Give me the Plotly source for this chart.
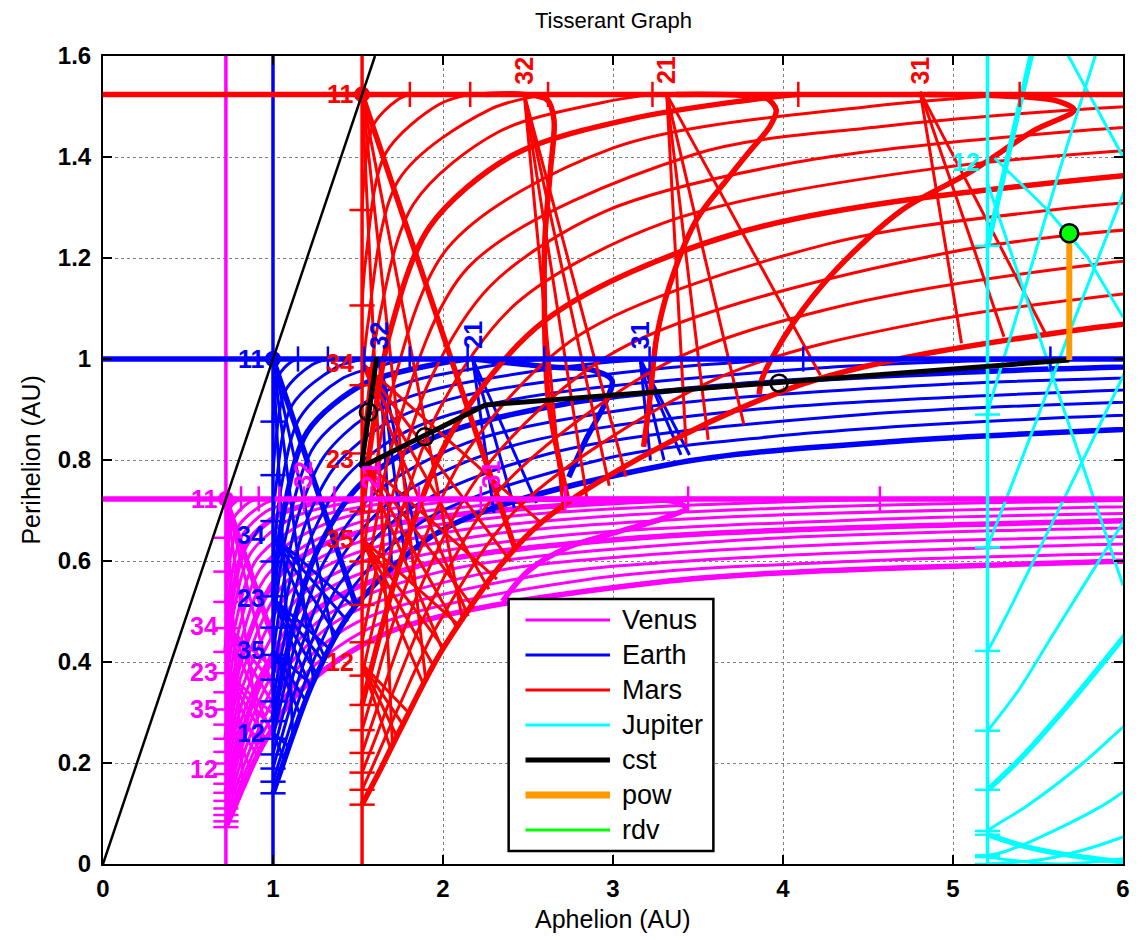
import plotly.graph_objects as go

# ---------------- planets ----------------
PLANET_NAMES = ["Venus", "Earth", "Mars", "Jupiter"]
PLANET_R_AU = [0.723, 1.0, 1.524, 5.203]
PLANET_COLORS = ["#FF00FF", "#0000FF", "#FF0000", "#00FFFF"]

# ---------------- v-infinity contours (aphelion / perihelion, AU) ----------------
VENUS_VINF_KMS = [1, 2, 3, 4, 5, 6, 7, 8, 9, 10, 11, 12, 13, 14, 15, 16, 17, 18, 19, 20]
VENUS_RA = [
    [0.812, 0.789, 0.744, 0.727, 0.723],
    [0.916, 0.862, 0.767, 0.730, 0.723],
    [1.038, 0.947, 0.791, 0.734, 0.723],
    [1.183, 1.115, 0.959, 0.816, 0.752, 0.729, 0.723],
    [1.361, 1.259, 1.035, 0.843, 0.760, 0.731, 0.723],
    [1.579, 1.430, 1.122, 0.872, 0.768, 0.733, 0.723],
    [1.858, 1.642, 1.221, 0.904, 0.776, 0.734, 0.723],
    [2.222, 1.905, 1.333, 0.937, 0.785, 0.736, 0.723],
    [2.720, 2.247, 1.464, 0.973, 0.795, 0.738, 0.723],
    [3.442, 2.702, 2.117, 1.619, 1.251, 1.012, 0.804, 0.740, 0.723],
    [4.570, 3.338, 2.472, 1.801, 1.340, 1.054, 0.815, 0.742, 0.723],
    [6.610, 4.298, 2.945, 2.022, 1.441, 1.100, 0.825, 0.744, 0.723],
    [9.230, 5.889, 3.603, 2.290, 1.556, 1.150, 0.836, 0.746, 0.723],
    [9.070, 6.330, 4.579, 2.636, 1.688, 1.205, 0.848, 0.749, 0.723],
    [9.870, 6.180, 3.081, 1.842, 1.265, 0.991, 0.860, 0.751, 0.723],
    [9.290, 5.497, 3.686, 2.025, 1.331, 1.019, 0.873, 0.7535, 0.723],
    [7.700, 4.553, 3.073, 2.243, 1.405, 1.0485, 0.886, 0.756, 0.723],
    [7.570, 5.885, 3.619, 2.508, 1.488, 1.080, 0.901, 0.759, 0.723],
    [8.250, 4.383, 2.841, 1.581, 1.115, 0.916, 0.761, 0.723],
    [6.954, 5.517, 3.264, 1.686, 1.151, 0.931, 0.824, 0.765, 0.723],
]
VENUS_RP = [
    [0.723, 0.7195, 0.703, 0.664, 0.646],
    [0.723, 0.717, 0.684, 0.612, 0.579],
    [0.723, 0.713, 0.666, 0.564, 0.519],
    [0.723, 0.717, 0.698, 0.649, 0.561, 0.491, 0.467],
    [0.723, 0.716, 0.692, 0.633, 0.529, 0.448, 0.420],
    [0.723, 0.715, 0.687, 0.617, 0.499, 0.408, 0.378],
    [0.723, 0.714, 0.682, 0.603, 0.470, 0.373, 0.340],
    [0.723, 0.713, 0.677, 0.589, 0.444, 0.340, 0.306],
    [0.723, 0.711, 0.672, 0.575, 0.4195, 0.310, 0.276],
    [0.723, 0.710, 0.693, 0.6665, 0.625, 0.562, 0.397, 0.283, 0.248],
    [0.723, 0.709, 0.691, 0.662, 0.617, 0.550, 0.375, 0.258, 0.222],
    [0.723, 0.708, 0.688, 0.657, 0.610, 0.5385, 0.355, 0.235, 0.199],
    [0.719, 0.707, 0.686, 0.653, 0.6025, 0.527, 0.336, 0.214, 0.178],
    [0.706, 0.696, 0.683, 0.6485, 0.5956, 0.5165, 0.318, 0.195, 0.159],
    [0.695, 0.681, 0.644, 0.589, 0.506, 0.402, 0.302, 0.177, 0.141],
    [0.679, 0.662, 0.640, 0.582, 0.496, 0.388, 0.286, 0.160, 0.125],
    [0.659, 0.636, 0.609, 0.576, 0.487, 0.375, 0.271, 0.145, 0.110],
    [0.642, 0.6325, 0.604, 0.569, 0.4775, 0.363, 0.256, 0.130, 0.097],
    [0.629, 0.599, 0.563, 0.469, 0.351, 0.243, 0.117, 0.0845],
    [0.6055, 0.595, 0.558, 0.460, 0.340, 0.230, 0.152, 0.105, 0.073],
]

EARTH_VINF_KMS = [1, 2, 3, 4, 5, 6, 7, 8, 9, 10, 11, 12, 13, 14, 15]
EARTH_RA = [
    [1.147, 1.108, 1.035, 1.006, 1.000],
    [1.323, 1.232, 1.072, 1.012, 1.000],
    [1.537, 1.376, 1.112, 1.018, 1.000],
    [1.804, 1.678, 1.400, 1.155, 1.047, 1.010, 1.000],
    [2.145, 1.947, 1.537, 1.202, 1.061, 1.013, 1.000],
    [2.595, 2.290, 1.697, 1.252, 1.075, 1.016, 1.000],
    [3.215, 2.736, 1.885, 1.545, 1.307, 1.166, 1.089, 1.019, 1.000],
    [4.119, 3.339, 2.108, 1.664, 1.367, 1.196, 1.104, 1.022, 1.000],
    [5.573, 4.209, 2.380, 1.800, 1.433, 1.228, 1.121, 1.025, 1.000],
    [8.276, 5.565, 3.897, 2.717, 1.957, 1.506, 1.263, 1.138, 1.029, 1.000],
    [7.958, 4.912, 3.144, 2.140, 1.586, 1.299, 1.156, 1.032, 1.000],
    [6.529, 3.705, 2.357, 1.675, 1.339, 1.175, 1.036, 1.000],
    [9.478, 4.473, 2.616, 1.775, 1.382, 1.195, 1.040, 1.000],
    [8.767, 5.594, 3.925, 2.934, 1.887, 1.428, 1.216, 1.044, 1.000],
    [7.371, 4.708, 3.329, 2.015, 1.478, 1.239, 1.117, 1.048, 1.000],
]
EARTH_RP = [
    [1.000, 0.9945, 0.9675, 0.9051, 0.876],
    [1.000, 0.989, 0.937, 0.822, 0.770],
    [1.000, 0.984, 0.9085, 0.749, 0.679],
    [1.000, 0.991, 0.960, 0.882, 0.744, 0.637, 0.599],
    [1.000, 0.989, 0.951, 0.856, 0.694, 0.571, 0.530],
    [1.000, 0.987, 0.942, 0.832, 0.648, 0.513, 0.468],
    [1.000, 0.985, 0.934, 0.885, 0.810, 0.709, 0.606, 0.461, 0.414],
    [1.000, 0.983, 0.926, 0.872, 0.788, 0.678, 0.567, 0.414, 0.365],
    [1.000, 0.982, 0.918, 0.859, 0.768, 0.650, 0.531, 0.371, 0.322],
    [1.000, 0.980, 0.953, 0.911, 0.846, 0.749, 0.622, 0.498, 0.333, 0.283],
    [0.978, 0.949, 0.903, 0.834, 0.730, 0.597, 0.466, 0.298, 0.248],
    [0.945, 0.896, 0.823, 0.713, 0.573, 0.438, 0.266, 0.217],
    [0.941, 0.890, 0.812, 0.696, 0.550, 0.411, 0.238, 0.189],
    [0.913, 0.883, 0.846, 0.801, 0.680, 0.529, 0.385, 0.211, 0.163],
    [0.878, 0.838, 0.791, 0.665, 0.508, 0.362, 0.255, 0.187, 0.140],
]

MARS_VINF_KMS = [1, 2, 3, 4, 5, 6, 7, 8, 9, 10, 11, 12, 13, 14, 15]
MARS_RA = [
    [1.805, 1.731, 1.590, 1.534, 1.524],
    [2.160, 1.976, 1.662, 1.546, 1.524],
    [2.618, 2.274, 1.740, 1.558, 1.524],
    [3.232, 2.940, 2.328, 1.827, 1.615, 1.544, 1.524],
    [4.090, 3.800, 3.114, 2.413, 1.922, 1.684, 1.584, 1.538, 1.524],
    [5.392, 4.508, 3.002, 2.028, 1.669, 1.597, 1.555, 1.524],
    [7.559, 5.875, 4.567, 3.468, 2.147, 1.699, 1.612, 1.561, 1.524],
    [8.155, 5.781, 4.068, 2.950, 2.280, 1.917, 1.730, 1.627, 1.567, 1.524],
    [12.70, 7.695, 4.869, 3.295, 2.431, 1.987, 1.764, 1.644, 1.574, 1.524],
    [11.14, 6.001, 3.717, 2.603, 2.062, 1.800, 1.661, 1.581, 1.524],
    [7.720, 5.582, 4.253, 2.801, 2.145, 1.839, 1.679, 1.588, 1.524],
    [10.60, 6.911, 4.947, 3.032, 2.237, 1.881, 1.699, 1.596, 1.524],
    [8.990, 5.885, 4.257, 3.304, 2.340, 1.927, 1.720, 1.605, 1.524],
    [7.227, 4.875, 3.630, 2.453, 1.975, 1.741, 1.613, 1.524],
    [9.290, 5.697, 4.027, 2.581, 2.027, 1.765, 1.623, 1.524],
]
MARS_RP = [
    [1.524, 1.513, 1.463, 1.350, 1.295],
    [1.524, 1.504, 1.407, 1.199, 1.106],
    [1.524, 1.494, 1.355, 1.069, 0.948],
    [1.524, 1.508, 1.450, 1.307, 1.063, 0.876, 0.813],
    [1.524, 1.513, 1.476, 1.404, 1.262, 1.048, 0.855, 0.737, 0.698],
    [1.524, 1.500, 1.418, 1.220, 0.899, 0.766, 0.672, 0.599],
    [1.524, 1.497, 1.460, 1.404, 1.181, 0.829, 0.687, 0.588, 0.513],
    [1.494, 1.453, 1.389, 1.292, 1.145, 0.954, 0.765, 0.616, 0.514, 0.439],
    [1.490, 1.445, 1.376, 1.269, 1.110, 0.906, 0.706, 0.552, 0.449, 0.373],
    [1.438, 1.363, 1.248, 1.077, 0.861, 0.652, 0.494, 0.391, 0.315],
    [1.350, 1.295, 1.227, 1.047, 0.819, 0.600, 0.449, 0.339, 0.265],
    [1.338, 1.279, 1.209, 1.018, 0.780, 0.558, 0.395, 0.292, 0.220],
    [1.264, 1.189, 1.098, 0.990, 0.744, 0.516, 0.352, 0.251, 0.181],
    [1.172, 1.076, 0.964, 0.709, 0.477, 0.312, 0.214, 0.147],
    [1.155, 1.056, 0.940, 0.677, 0.441, 0.277, 0.181, 0.1175],
]

JUPITER_VINF_KMS = [5, 6, 7, 8, 9, 10, 11, 12, 13, 14, 15]
JUPITER_RA = [
    [5.203, 5.222, 5.279, 5.379, 5.446, 5.529],
    [5.203, 5.223, 5.296, 5.425, 5.611, 5.888],
    [5.203, 5.231, 5.320, 5.476, 5.709, 6.052],
    [5.203, 5.240, 5.346, 5.532, 5.819, 6.007],
    [5.203, 5.249, 5.385, 5.595, 5.938, 6.026],
    [5.203, 5.253, 5.408, 5.668, 5.851, 6.077],
    [5.203, 5.252, 5.437, 5.755, 5.967, 6.070],
    [5.203, 5.297, 5.485, 5.854, 5.991, 6.096],
    [5.203, 5.560, 5.971, 6.240],
    [5.203, 5.620, 6.070],
    [5.203, 5.463, 5.880, 6.190],
]
JUPITER_RP = [
    [1.224, 1.251, 1.336, 1.483, 1.581, 1.698],
    [0.890, 0.917, 0.998, 1.142, 1.356, 1.655],
    [0.627, 0.6525, 0.7285, 0.865, 1.074, 1.371],
    [0.422, 0.444, 0.513, 0.640, 0.838, 0.971],
    [0.264, 0.283, 0.344, 0.458, 0.643, 0.690],
    [0.147, 0.162, 0.2127, 0.3115, 0.3855, 0.480],
    [0.0655, 0.0767, 0.1155, 0.197, 0.261, 0.292],
    [0.0172, 0.0237, 0.049, 0.1106, 0.140, 0.163],
    [0.000, 0.0109, 0.050, 0.090],
    [0.0136, 0.000, 0.0134],
    [0.058, 0.0313, 0.0085, 0.000],
]

# ---------------- resonance curves ----------------
RES_THICK = [
    (0, [0.723, 1.119], [0.723, 0.327]),
    (0, [2.280, 2.900, 3.350, 3.430, 3.300, 3.000, 2.720, 2.500, 2.350],
        [0.723, 0.722, 0.718, 0.705, 0.685, 0.655, 0.625, 0.580, 0.520]),
    (1, [1.000, 1.4875], [1.000, 0.5125]),
    (1, [2.175, 2.640, 2.880, 2.994, 2.950, 2.840, 2.740], [1.000, 0.984, 0.978, 0.958, 0.910, 0.840, 0.766]),
    (2, [1.524, 2.425], [1.524, 0.623]),
    (2, [2.250, 2.478, 2.614, 2.653, 2.632, 2.600, 2.596, 2.620, 2.730],
        [1.524, 1.524, 1.513, 1.473, 1.374, 1.242, 1.111, 0.920, 0.727]),
    (2, [3.370, 3.725, 3.900, 3.960, 3.920, 3.800, 3.667, 3.490, 3.330, 3.257, 3.216, 3.180],
        [1.524, 1.523, 1.517, 1.493, 1.459, 1.410, 1.354, 1.275, 1.143, 1.044, 0.919, 0.826]),
    (2, [4.850, 5.300, 5.600, 5.713, 5.480, 5.090, 4.700, 4.310, 4.060, 3.880, 3.860],
        [1.524, 1.521, 1.512, 1.493, 1.453, 1.368, 1.295, 1.176, 1.071, 0.964, 0.930]),
]
# thin fans: (planet index, origin ra, origin rp, end ra list, end rp list)
RES_FANS = [
    (0, 0.723, 0.723, [0.824, 0.931, 1.040], [0.152, 0.230, 0.285]),
    (0, 0.723, 0.471, [0.990, 1.050, 1.100, 1.157], [0.260, 0.290, 0.315, 0.341]),
    (0, 0.723, 0.380, [0.920, 0.960, 1.000, 1.040], [0.222, 0.245, 0.265, 0.285]),
    (0, 0.723, 0.306, [0.870, 0.910, 0.948], [0.187, 0.215, 0.239]),
    (0, 0.723, 0.188, [0.796, 0.829], [0.130, 0.156]),
    (1, 1.000, 1.000, [1.117, 1.239, 1.360], [0.255, 0.362, 0.440]),
    (1, 1.000, 0.651, [1.308, 1.380, 1.440, 1.478], [0.405, 0.450, 0.480, 0.508]),
    (1, 1.000, 0.526, [1.223, 1.260, 1.300, 1.340], [0.348, 0.375, 0.400, 0.424]),
    (1, 1.000, 0.423, [1.162, 1.195, 1.230], [0.294, 0.322, 0.354]),
    (1, 1.000, 0.260, [1.067, 1.094], [0.206, 0.232]),
    (1, 1.626, 1.000, [1.700, 1.780, 1.860], [0.580, 0.600, 0.620]),
    (1, 2.175, 1.000, [2.300, 2.420, 2.550], [0.695, 0.705, 0.715]),
    (1, 3.160, 1.000, [3.220, 3.300, 3.400, 3.450], [0.800, 0.800, 0.810, 0.810]),
    (2, 1.524, 1.524, [1.703, 1.899, 2.117], [0.235, 0.361, 0.480]),
    (2, 1.524, 0.992, [2.148, 2.270, 2.398, 2.579], [0.491, 0.544, 0.599, 0.675]),
    (2, 1.524, 0.802, [1.998, 2.085, 2.182, 2.317], [0.423, 0.466, 0.506, 0.564]),
    (2, 1.524, 0.644, [1.887, 1.946, 2.006, 2.099], [0.354, 0.391, 0.427, 0.471]),
    (2, 1.524, 0.396, [1.692, 1.729, 1.764, 1.800], [0.228, 0.252, 0.276, 0.299]),
    (2, 2.478, 1.524, [2.707, 2.846, 2.978, 3.076], [0.700, 0.725, 0.749, 0.767]),
    (2, 3.316, 1.524, [3.430, 3.560, 3.770, 4.220], [0.830, 0.840, 0.870, 0.968]),
    (2, 4.807, 1.529, [5.050, 5.300, 5.540], [1.031, 1.044, 1.053]),
]
JUPITER_EXTRA = [
    ([5.203, 6.000], [1.349, 0.552]),
    ([5.245, 5.556, 5.790, 6.000], [1.398, 1.295, 1.202, 1.083]),
    ([5.670, 6.000], [1.606, 1.400]),
]

LEFT_LABELS = [
    (0, ["11", "34", "23", "35", "12"], [0.723, 0.471, 0.380, 0.306, 0.188]),
    (1, ["11", "34", "23", "35", "12"], [1.000, 0.651, 0.526, 0.423, 0.260]),
    (2, ["11", "34", "23", "35", "12"], [1.524, 0.992, 0.802, 0.644, 0.400]),
    (3, ["12"], [1.390]),
]
TOP_LABELS = [
    (0, ["32", "21", "31"], [1.176, 1.573, 2.280]),
    (1, ["32", "21", "31"], [1.626, 2.175, 3.160]),
    (2, ["32", "21", "31"], [2.478, 3.316, 4.807]),
]

# ---------------- trajectory ----------------
CST_RA = [1.610, 1.520, 2.250, 5.684]
CST_RP = [1.004, 0.786, 0.909, 0.998]
FLYBY_RA = [1.561, 1.893, 3.977]
FLYBY_RP = [0.895, 0.846, 0.952]
POW_RA = [5.684, 5.684]
POW_RP = [0.998, 1.245]
RDV_RA = [5.684]
RDV_RP = [1.249]

LEGEND_NAMES = ["Venus", "Earth", "Mars", "Jupiter", "cst", "pow", "rdv"]
LEGEND_COLORS = ["#FF00FF", "#0000FF", "#FF0000", "#00FFFF", "#000000", "#FF9900", "#00FF00"]
LEGEND_WIDTHS = [3, 3, 3, 3, 5, 7, 3]

X_RANGE = [0, 6]
Y_RANGE = [0, 1.6]

THIN = 3.0
THICK = 5.5

# =====================================================================
fig = go.Figure()


def add_line(x, y, color, width, shape="linear"):
    fig.add_trace(go.Scatter(
        x=x, y=y, mode="lines",
        line=dict(color=color, width=width, shape=shape, smoothing=0.9),
        showlegend=False, hoverinfo="skip"))


contour_sets = [
    (0, VENUS_VINF_KMS, VENUS_RA, VENUS_RP),
    (1, EARTH_VINF_KMS, EARTH_RA, EARTH_RP),
    (2, MARS_VINF_KMS, MARS_RA, MARS_RP),
    (3, JUPITER_VINF_KMS, JUPITER_RA, JUPITER_RP),
]

top_ticks = {i: [] for i in range(4)}
side_ticks = {i: [] for i in range(4)}

for pi, vinf, ras, rps in contour_sets:
    col = PLANET_COLORS[pi]
    R = PLANET_R_AU[pi]
    for v, ra, rp in zip(vinf, ras, rps):
        add_line(ra, rp, col, THICK if v % 5 == 0 else THIN, "spline")
        for k in (0, -1):
            if abs(rp[k] - R) < 1e-9:
                top_ticks[pi].append(ra[k])
            if abs(ra[k] - R) < 1e-9:
                side_ticks[pi].append(rp[k])
    for pj, x0, y0, xe, ye in RES_FANS:
        if pj == pi:
            for x1, y1 in zip(xe, ye):
                add_line([x0, x1], [y0, y1], col, THIN)
    for pj, ra, rp in RES_THICK:
        if pj == pi:
            add_line(ra, rp, col, THICK, "spline")

for ra, rp in JUPITER_EXTRA:
    add_line(ra, rp, PLANET_COLORS[3], THIN)

# planet orbit lines
for pi, R in enumerate(PLANET_R_AU):
    col = PLANET_COLORS[pi]
    add_line([R, R], Y_RANGE, col, 3.5)
    if R < Y_RANGE[1]:
        add_line(X_RANGE, [R, R], col, 5.5)

# ticks on orbit lines (contour end points)
for pi, R in enumerate(PLANET_R_AU):
    col = PLANET_COLORS[pi]
    if top_ticks[pi]:
        fig.add_trace(go.Scatter(
            x=top_ticks[pi], y=[R] * len(top_ticks[pi]), mode="markers",
            marker=dict(symbol="line-ns", size=18, line=dict(color=col, width=2.5)),
            showlegend=False, hoverinfo="skip"))
    if side_ticks[pi]:
        fig.add_trace(go.Scatter(
            x=[R] * len(side_ticks[pi]), y=side_ticks[pi], mode="markers",
            marker=dict(symbol="line-ew", size=18, line=dict(color=col, width=2.5)),
            showlegend=False, hoverinfo="skip"))

# 1:1 points
for pi, R in enumerate(PLANET_R_AU[:3]):
    fig.add_trace(go.Scatter(
        x=[R], y=[R], mode="markers",
        marker=dict(symbol="circle", size=16, color=PLANET_COLORS[pi]),
        showlegend=False, hoverinfo="skip"))

# ra = rp line
add_line([0, Y_RANGE[1]], [0, Y_RANGE[1]], "#000000", 2.5)

# trajectory
add_line(CST_RA, CST_RP, "#000000", 5)
fig.add_trace(go.Scatter(
    x=FLYBY_RA, y=FLYBY_RP, mode="markers",
    marker=dict(symbol="circle-open", size=17, color="#000000", line=dict(width=2.5)),
    showlegend=False, hoverinfo="skip"))
add_line(POW_RA, POW_RP, "#FF9900", 6)
fig.add_trace(go.Scatter(
    x=RDV_RA, y=RDV_RP, mode="markers",
    marker=dict(symbol="circle", size=18, color="#00FF00", line=dict(color="#000000", width=2.5)),
    showlegend=False, hoverinfo="skip"))

# ---------------- annotations ----------------
FONT = "Liberation Sans, Arial, sans-serif"
ann = []
for pi, texts, ys in LEFT_LABELS:
    R = PLANET_R_AU[pi]
    for t, y in zip(texts, ys):
        ann.append(dict(x=R, y=y, text="<b>%s</b>" % t, showarrow=False,
                        xanchor="right", yanchor="middle", xshift=-6,
                        font=dict(color=PLANET_COLORS[pi], family=FONT, size=25)))
for pi, texts, xs in TOP_LABELS:
    R = PLANET_R_AU[pi]
    for t, x in zip(texts, xs):
        ann.append(dict(x=x, y=R, text="<b>%s</b>" % t, showarrow=False,
                        textangle=-90, xanchor="center", yanchor="middle", yshift=24,
                        font=dict(color=PLANET_COLORS[pi], family=FONT, size=25)))

ann.append(dict(xref="paper", yref="paper", x=0.5, y=-0.068, text="Aphelion (AU)",
                showarrow=False, xanchor="center", yanchor="middle",
                font=dict(size=25, family=FONT, color="#000000")))
ann.append(dict(xref="paper", yref="paper", x=-0.071, y=0.5, text="Perihelion (AU)",
                showarrow=False, textangle=-90, xanchor="center", yanchor="middle",
                font=dict(size=25, family=FONT, color="#000000")))
ann.append(dict(xref="paper", yref="paper", x=0.5, y=1.044, text="Tisserant Graph",
                showarrow=False, xanchor="center", yanchor="middle",
                font=dict(size=22, family=FONT, color="#000000")))

# legend box drawn to match the original
shapes = [dict(type="rect", xref="paper", yref="paper", x0=0.3977, x1=0.5984,
               y0=0.0161, y1=0.328, line=dict(color="#000000", width=2.5), fillcolor="white")]
leg_y = [0.3020, 0.2587, 0.2153, 0.1720, 0.1287, 0.0854, 0.0421]
for name, col, w, y in zip(LEGEND_NAMES, LEGEND_COLORS, LEGEND_WIDTHS, leg_y):
    shapes.append(dict(type="line", xref="paper", yref="paper", x0=0.4142, x1=0.4971,
                       y0=y, y1=y, line=dict(color=col, width=w)))
    ann.append(dict(xref="paper", yref="paper", x=0.5068, y=y, text=name, showarrow=False,
                    xanchor="left", yanchor="middle",
                    font=dict(size=27, family=FONT, color="#000000")))

axis_common = dict(
    showgrid=True, gridcolor="#7f7f7f", griddash="dot", gridwidth=1,
    showline=True, linecolor="#000000", linewidth=2, mirror="ticks",
    ticks="inside", ticklen=9, tickwidth=2, tickcolor="#000000",
    zeroline=False,
    tickfont=dict(size=24, family=FONT, color="#000000", weight="bold"),
)

fig.update_layout(
    width=1142, height=940,
    margin=dict(l=103, r=13, t=56, b=76),
    paper_bgcolor="white", plot_bgcolor="white",
    showlegend=False,
    xaxis=dict(range=X_RANGE, dtick=1, tick0=0, ticklabelstandoff=2, **axis_common),
    yaxis=dict(range=Y_RANGE, dtick=0.2, tick0=0, ticklabelstandoff=5, **axis_common),
    annotations=ann, shapes=shapes,
)

fig.write_html("out.html")
